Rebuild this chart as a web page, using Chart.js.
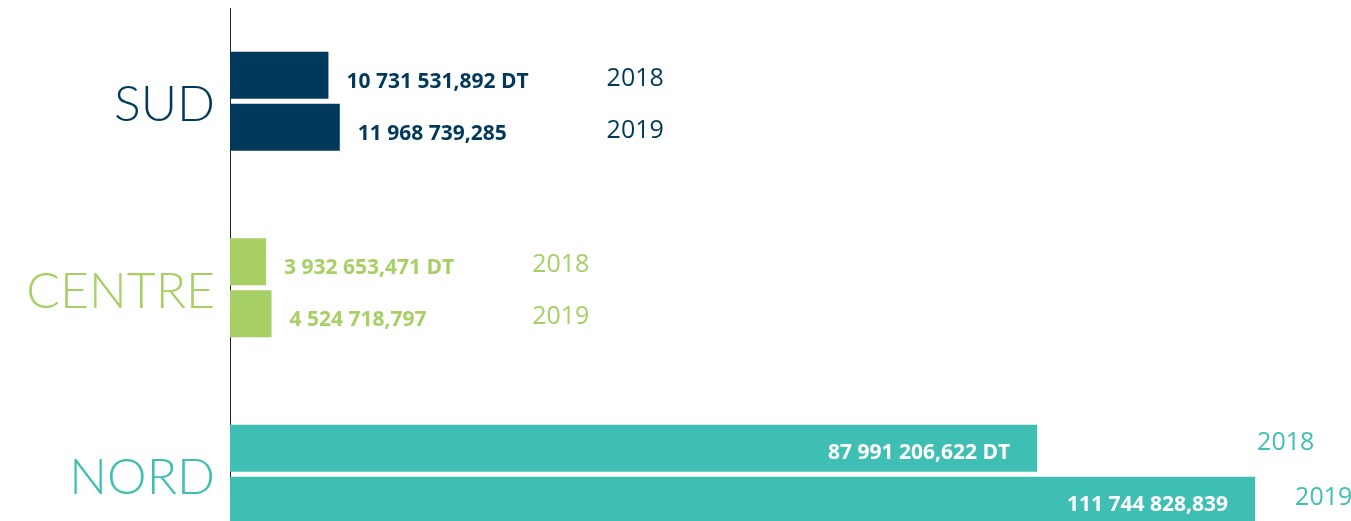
<!DOCTYPE html>
<html>
<head>
<meta charset="utf-8">
<script src="https://cdn.jsdelivr.net/npm/chart.js@4.4.0/dist/chart.umd.min.js"></script>
<style>
  html, body { margin:0; padding:0; background:#fff; }
  #frame { width:1351px; height:521px; overflow:hidden; position:relative; }
  #box { position:absolute; left:0; top:0; width:1351px; height:570px; }
</style>
</head>
<body>
<div id="frame"><div id="box"><canvas id="chart"></canvas></div></div>
<script>
// --- DATA ---
const regions = ['SUD', 'CENTRE', 'NORD'];
const years = ['2018', '2019'];
const values2018 = [10731531.892, 3932653.471, 87991206.622];
const values2019 = [11968739.285, 4524718.797, 111744828.839];
const suffixes = [' DT', ''];
const regionColors = ['#00395a', '#a6d064', '#3fbfb3'];

// --- UTILITIES ---
function fmt(v){
  const [i, d] = v.toFixed(3).split('.');
  return i.replace(/\B(?=(\d{3})+(?!\d))/g, ' ') + ',' + d;
}

const VALUE_SIZE = 21;
const YEAR_SIZE = 25;
const VALUE_FONT = `700 ${VALUE_SIZE}px "Open Sans"`;
const YEAR_FONT = `400 ${YEAR_SIZE}px "Open Sans"`;

// --- LABEL PLUGIN ---
const barLabels = {
  id: 'barLabels',
  afterDatasetsDraw(chart){
    const ctx = chart.ctx;
    ctx.save();
    ctx.textBaseline = 'alphabetic';
    regions.forEach((r, j) => {
      const color = regionColors[j];
      let groupEnd = 0, inside = false;
      const bars = chart.data.datasets.map((ds, i) => chart.getDatasetMeta(i).data[j]);
      bars.forEach((el, i) => {
        const text = fmt(chart.data.datasets[i].data[j]) + suffixes[i];
        ctx.font = VALUE_FONT;
        const w = ctx.measureText(text).width;
        const len = el.x - el.base;
        if(len > w + 60){
          inside = true;
          ctx.fillStyle = '#fff';
          ctx.textAlign = 'right';
          ctx.fillText(text, el.x - 27, el.y + 3.5 + VALUE_SIZE*0.36);
        } else {
          ctx.fillStyle = color;
          ctx.textAlign = 'left';
          ctx.fillText(text, el.x + 18, el.y + 5 + VALUE_SIZE*0.36);
          groupEnd = Math.max(groupEnd, el.x + 18 + w);
        }
      });
      // year tags
      ctx.font = YEAR_FONT;
      ctx.fillStyle = color;
      ctx.textAlign = 'left';
      bars.forEach((el, i) => {
        let x, y;
        if(inside){
          x = i === 0 ? bars[1].x + 2 : el.x + 40;
          y = el.y + (i === 0 ? -7 : -4);
        } else {
          x = groupEnd + 78;
          y = el.y + 1.5;
        }
        ctx.fillText(years[i], x, y + YEAR_SIZE*0.36);
      });
    });
    ctx.restore();
  }
};

// --- CHART ---
new Chart(document.getElementById('chart'), {
  type: 'bar',
  data: {
    labels: regions,
    datasets: [
      {label: years[0], data: values2018, backgroundColor: regionColors, borderWidth: 0},
      {label: years[1], data: values2019, backgroundColor: regionColors, borderWidth: 0}
    ]
  },
  options: {
    indexAxis: 'y',
    responsive: true,
    maintainAspectRatio: false,
    animation: false,
    categoryPercentage: 0.5576,
    barPercentage: 0.904,
    layout: {padding: {top: 8, bottom: 2.5, left: 0, right: 0}},
    plugins: {legend: {display: false}, tooltip: {enabled: false}},
    scales: {
      x: {display: false, min: 0, max: 122200000},
      y: {
        grid: {display: false, drawTicks: false},
        border: {display: true, color: '#222', width: 1},
        afterFit(scale){
          scale.width = 230;
          scale.paddingTop = 0;
          scale.paddingBottom = 0;
        },
        ticks: {
          padding: 15,
          labelOffset: 4,
          color: (c) => regionColors[c.index],
          font: {family: 'Lato', weight: 300, size: 50}
        }
      }
    }
  },
  plugins: [barLabels]
});
</script>
</body>
</html>
